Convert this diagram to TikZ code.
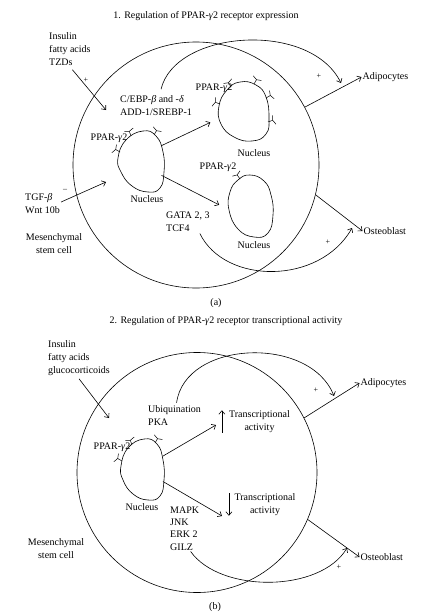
\documentclass[tikz,border=0pt]{standalone}
\usepackage{fontspec}
\setmainfont{Liberation Serif}
\usepackage{tikz}
\usetikzlibrary{positioning,arrows.meta,shapes.geometric}

\begin{document}
\begin{tikzpicture}[
    x=1pt, y=-1pt,
    >={Straight Barb[length=3.5pt,width=6pt]},
    cell/.style     = {circle, draw, line width=0.6pt, inner sep=0pt},
    nuc/.style      = {ellipse, inner sep=0pt},
    txt/.style      = {font=\fontsize{10}{13}\selectfont, inner sep=1pt},
    lbl/.style      = {txt, align=left, anchor=west},
    ctr/.style      = {txt, align=center},
    signtxt/.style  = {font=\fontsize{8}{8}\selectfont, inner sep=0pt},
    arr/.style      = {->, line width=0.6pt},
    memb/.style     = {line width=0.6pt},
    recep/.style    = {line width=0.5pt},
]
\useasboundingbox (0,0) rectangle (445,616);

% =============================== Panel (a): expression ===============================
\begin{scope}
  \node[ctr] (titleA) at (206,16) {1. Regulation of PPAR-\textit{γ}2 receptor expression};
  \node[cell, minimum size=246pt] (cellA) at (196,165) {};
  % nuclei: anchors only, outlines drawn as blobs
  \node[nuc, minimum width=46pt, minimum height=61pt] (nucA1) at (141,161) {};
  \node[nuc, minimum width=50pt, minimum height=59pt] (nucA2) at (244,111.5) {};
  \node[nuc, minimum width=44pt, minimum height=62pt] (nucA3) at (251,206) {};
  \draw[memb] plot[smooth cycle, tension=0.8] coordinates
       {(143,131) (156,136) (163,152) (164,172) (160,188) (148,192) (132,186) (121,172) (118,158) (126,140)};
  \draw[memb] plot[smooth cycle, tension=0.8] coordinates
       {(240,82) (256,85) (266,97) (269,118) (266,134) (252,141) (234,137) (221,124) (219,106) (227,90)};
  \draw[memb] plot[smooth cycle, tension=0.8] coordinates
       {(250,175) (264,181) (271,195) (273,215) (268,233) (254,237) (238,229) (229,210) (230,192) (238,180)};
  % receptors on the nuclear membranes
  \foreach \x/\y/\a in {131/136/250, 154/135/300, 120/152/210,
                        231/87/240, 254/84/300, 266/98/330, 268/122/340, 220/104/200,
                        240/179/235} {
      \draw[recep] (\x,\y) -- ++(\a:5) -- ++(\a+70:5) ++(\a+250:5) -- ++(\a-70:5);
  }

  \node[lbl] (insA)   at (48,49)      {Insulin\\fatty acids\\TZDs};
  \node[lbl] (cebp)   at (119,105.5)  {C/EBP-\textit{β} and -\textit{δ}\\ADD-1/SREBP-1};
  \node[ctr] (ppA1)   at (109,138)    {PPAR-\textit{γ}2};
  \node[ctr] (ppA2)   at (214,88)     {PPAR-\textit{γ}2};
  \node[ctr] (ppA3)   at (218,167)    {PPAR-\textit{γ}2};
  \node[ctr] (nlA1)   at (147,199)    {Nucleus};
  \node[ctr] (nlA2)   at (254,153)    {Nucleus};
  \node[ctr] (nlA3)   at (254,245)    {Nucleus};
  \node[lbl] (gata)   at (165,221.5)  {GATA 2, 3\\TCF4};
  \node[lbl] (tgf)    at (24,204)     {TGF-\textit{β}\\Wnt 10b};
  \node[ctr] (mscA)   at (54,243.5)   {Mesenchymal\\stem cell};
  \node[lbl] (adipoA) at (361.5,77)   {Adipocytes};
  \node[lbl] (osteoA) at (362.5,231)  {Osteoblast};
  \node[ctr] (capA)   at (216,303)    {(a)};
  \node[signtxt] (pInsA) at (86,80)   {+};
  \node[signtxt] (pAdA)  at (319,76)  {+};
  \node[signtxt] (pOsA)  at (328,242) {+};
  \node[signtxt] (mTgfA) at (65,190)  {\textendash};

  \coordinate (insTipA) at (106,110);
  \coordinate (tgfTipA) at (106,182);
  \coordinate (adArcA)  at (341,83);
  \coordinate (osArcA)  at (352,228);

  \draw[arr] ([xshift=2.5pt,yshift=-3pt]insA.south) -- (insTipA);
  \draw[arr] ([yshift=2pt]tgf.east) -- (tgfTipA);
  \draw[arr, shorten >=10pt] (nucA1.37) -- (nucA2.195);
  \draw[arr, shorten >=11pt] (nucA1.-35) -- (nucA3.190);
  \draw[arr] (cellA.28) -- (adipoA.west);
  \draw[arr] (cellA.-14) -- (osteoA.west);
  \draw[arr] ([xshift=5pt,yshift=5pt]cebp.north) .. controls (175,30) and (310,20) .. (adArcA);
  \draw[arr] ([xshift=12pt,yshift=-1pt]gata.south) .. controls (225,285) and (320,285) .. (osArcA);
\end{scope}

% =============================== Panel (b): transcriptional activity ===============================
\begin{scope}
  \node[ctr] (titleB) at (226,321) {2. Regulation of PPAR-\textit{γ}2 receptor transcriptional activity};
  \node[cell, minimum size=240pt] (cellB) at (197,472.5) {};
  \node[nuc, minimum width=43pt, minimum height=61pt] (nucB) at (143,469.5) {};
  \draw[memb] plot[smooth cycle, tension=0.8] coordinates
       {(144,439) (157,444) (163,460) (164,480) (160,496) (148,500) (133,494) (123,480) (121,466) (128,448)};
  \foreach \x/\y/\a in {132/445/250, 155/443/300, 122/461/210} {
      \draw[recep] (\x,\y) -- ++(\a:5) -- ++(\a+70:5) ++(\a+250:5) -- ++(\a-70:5);
  }

  \node[lbl] (insB)   at (47,358.5)   {Insulin\\fatty acids\\glucocorticoids};
  \node[lbl] (ubiq)   at (147,416)    {Ubiquination\\PKA};
  \node[ctr] (ppB)    at (112,447)    {PPAR-\textit{γ}2};
  \node[ctr] (nlB)    at (142,507)    {Nucleus};
  \node[ctr, inner sep=0pt] (trUp)   at (259.5,421.5) {Transcriptional\\activity};
  \node[ctr, inner sep=0pt] (trDown) at (265,504.5)   {Transcriptional\\activity};
  \node[lbl, font=\fontsize{10}{12.3}\selectfont] (mapk) at (169,528.5) {MAPK\\JNK\\ERK 2\\GILZ};
  \node[ctr] (mscB)   at (56,549)     {Mesenchymal\\stem cell};
  \node[lbl] (adipoB) at (359.5,383)  {Adipocytes};
  \node[lbl] (osteoB) at (359.5,557)  {Osteoblast};
  \node[ctr] (capB)   at (215,607)    {(b)};
  \node[signtxt] (pAdB)  at (316,390) {+};
  \node[signtxt] (pOsB)  at (339,567) {+};

  \coordinate (insTipB) at (109,418);
  \coordinate (upTip)   at (216,425);
  \coordinate (downTip) at (222,516);
  \coordinate (adArcB)  at (334,396);
  \coordinate (osArcB)  at (347,548);

  \draw[arr] ([yshift=-1.5pt]insB.south) -- (insTipB);
  \draw[arr] ([xshift=-7pt]trUp.south west) -- ([xshift=-7pt]trUp.north west);
  \draw[arr] ([xshift=-5.5pt]trDown.north west) -- ([xshift=-5.5pt]trDown.south west);
  \draw[arr] (nucB.34) -- (upTip);
  \draw[arr] (nucB.-31) -- (downTip);
  \draw[arr] (cellB.27) -- (adipoB.west);
  \draw[arr] (cellB.-23) -- (osteoB.west);
  \draw[arr] ([xshift=2pt,yshift=2pt]ubiq.north) .. controls (185,340) and (310,335) .. (adArcB);
  \draw[arr] ([xshift=6pt]mapk.south) .. controls (220,593) and (320,593) .. (osArcB);
\end{scope}

\end{tikzpicture}
\end{document}
